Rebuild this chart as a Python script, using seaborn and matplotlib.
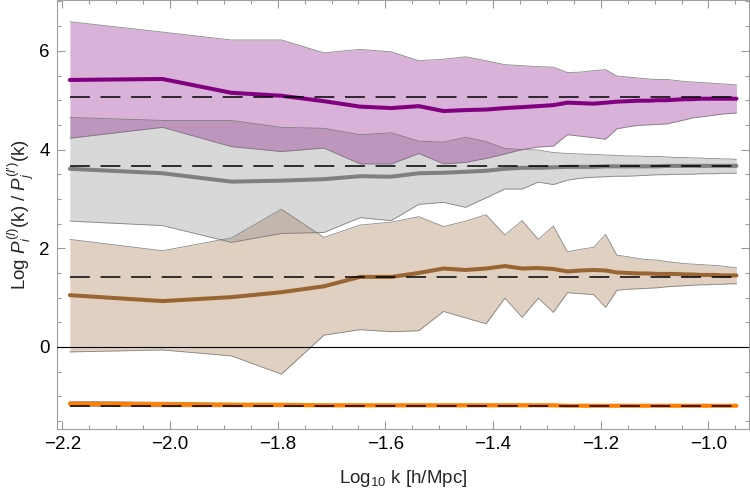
import numpy as np
import pandas as pd
import seaborn as sns
import matplotlib.pyplot as plt
from matplotlib.ticker import MultipleLocator

# log10 k of each bin
log_k = [-2.186, -2.014, -1.886, -1.793, -1.714, -1.647, -1.589, -1.538, -1.492, -1.451,
         -1.413, -1.378, -1.346, -1.316, -1.288, -1.262, -1.237, -1.213, -1.191, -1.170,
         -1.150, -1.130, -1.112, -1.094, -1.077, -1.061, -1.045, -1.030, -1.015, -1.001,
         -0.987, -0.974, -0.961, -0.948]

purple_mean = [5.41, 5.43, 5.15, 5.09, 4.98, 4.87, 4.84, 4.88, 4.78, 4.80, 4.81, 4.84, 4.86, 4.88,
               4.90, 4.95, 4.94, 4.93, 4.95, 4.97, 4.98, 4.99, 4.99, 5.00, 5.00, 5.01, 5.02, 5.02,
               5.03, 5.03, 5.03, 5.03, 5.03, 5.03]
purple_hi = [6.59, 6.38, 6.22, 6.22, 5.96, 6.03, 5.98, 5.80, 5.83, 5.88, 5.80, 5.72, 5.70, 5.68,
             5.67, 5.56, 5.57, 5.60, 5.62, 5.49, 5.47, 5.45, 5.43, 5.42, 5.42, 5.40, 5.38, 5.37,
             5.36, 5.35, 5.34, 5.33, 5.32, 5.31]
purple_lo = [4.23, 4.45, 4.06, 3.96, 4.03, 3.71, 3.71, 3.92, 3.71, 3.74, 3.82, 3.91, 4.00, 4.05,
             4.07, 4.30, 4.27, 4.24, 4.21, 4.42, 4.46, 4.49, 4.50, 4.51, 4.52, 4.56, 4.60, 4.64,
             4.66, 4.68, 4.70, 4.72, 4.73, 4.74]

gray_mean = [3.61, 3.52, 3.35, 3.37, 3.40, 3.46, 3.45, 3.52, 3.53, 3.55, 3.57, 3.61, 3.63, 3.63,
             3.64, 3.65, 3.65, 3.65, 3.66, 3.66, 3.66, 3.66, 3.66, 3.66, 3.67, 3.67, 3.67, 3.67,
             3.67, 3.67, 3.67, 3.67, 3.67, 3.67]
gray_hi = [4.65, 4.59, 4.59, 4.45, 4.43, 4.30, 4.34, 4.17, 4.15, 4.25, 4.16, 4.02, 4.00, 3.99,
           3.94, 3.92, 3.91, 3.90, 3.89, 3.88, 3.87, 3.87, 3.86, 3.86, 3.85, 3.84, 3.84, 3.83,
           3.83, 3.82, 3.82, 3.81, 3.81, 3.80]
gray_lo = [2.55, 2.46, 2.12, 2.30, 2.32, 2.62, 2.56, 2.89, 2.93, 2.83, 3.02, 3.20, 3.20, 3.34,
           3.29, 3.38, 3.42, 3.44, 3.45, 3.46, 3.46, 3.47, 3.48, 3.49, 3.49, 3.50, 3.50, 3.50,
           3.51, 3.51, 3.51, 3.52, 3.52, 3.52]

brown_mean = [1.05, 0.93, 1.01, 1.11, 1.23, 1.42, 1.42, 1.50, 1.59, 1.56, 1.59, 1.64, 1.59, 1.60,
              1.58, 1.53, 1.55, 1.56, 1.55, 1.51, 1.50, 1.49, 1.49, 1.48, 1.48, 1.48, 1.47, 1.47,
              1.46, 1.46, 1.46, 1.45, 1.45, 1.45]
brown_hi = [2.18, 1.95, 2.21, 2.79, 2.22, 2.47, 2.53, 2.64, 2.44, 2.55, 2.68, 2.27, 2.56, 2.18,
            2.45, 1.93, 1.98, 2.02, 2.28, 1.86, 1.83, 1.79, 1.77, 1.76, 1.73, 1.71, 1.69, 1.68,
            1.67, 1.66, 1.65, 1.64, 1.62, 1.61]
brown_lo = [-0.10, -0.06, -0.18, -0.55, 0.24, 0.35, 0.31, 0.33, 0.72, 0.59, 0.47, 0.99, 0.60, 0.99,
            0.70, 1.10, 1.08, 1.06, 0.80, 1.15, 1.17, 1.18, 1.19, 1.20, 1.22, 1.23, 1.24, 1.25,
            1.26, 1.26, 1.27, 1.27, 1.28, 1.28]

orange_mean = [-1.15, -1.16, -1.17, -1.17, -1.18, -1.18, -1.18, -1.18, -1.18, -1.18, -1.18, -1.18,
               -1.18, -1.18, -1.18, -1.19, -1.19, -1.19, -1.19, -1.19, -1.19, -1.19, -1.19, -1.19,
               -1.19, -1.19, -1.19, -1.19, -1.19, -1.19, -1.19, -1.19, -1.19, -1.19]
orange_hi = [-1.10, -1.12, -1.14, -1.15, -1.16, -1.16, -1.17, -1.17, -1.17, -1.17, -1.17, -1.17,
             -1.17, -1.17, -1.17, -1.17, -1.17, -1.17, -1.17, -1.17, -1.17, -1.17, -1.17, -1.17,
             -1.17, -1.17, -1.17, -1.17, -1.17, -1.17, -1.17, -1.17, -1.17, -1.17]
orange_lo = [-1.20, -1.21, -1.21, -1.21, -1.21, -1.21, -1.21, -1.21, -1.21, -1.21, -1.21, -1.21,
             -1.21, -1.21, -1.21, -1.21, -1.21, -1.21, -1.21, -1.21, -1.21, -1.21, -1.21, -1.21,
             -1.21, -1.21, -1.21, -1.21, -1.21, -1.21, -1.21, -1.21, -1.21, -1.21]

# expected (dashed) levels
ref_levels = [5.07, 3.67, 1.42, -1.19]

series_names = ['orange', 'brown', 'gray', 'purple']
colors = {'purple': '#800080', 'gray': '#808080', 'brown': '#996633', 'orange': '#ff8000'}

bands = {
    'orange': (orange_lo, orange_hi),
    'brown': (brown_lo, brown_hi),
    'gray': (gray_lo, gray_hi),
    'purple': (purple_lo, purple_hi),
}
means = {'orange': orange_mean, 'brown': brown_mean, 'gray': gray_mean, 'purple': purple_mean}

df = pd.concat([pd.DataFrame({'logk': log_k, 'value': means[s], 'series': s}) for s in series_names],
               ignore_index=True)

sns.set_style("ticks")
plt.rcParams['font.family'] = ['Liberation Sans', 'DejaVu Sans']
plt.rcParams['mathtext.fontset'] = 'custom'
plt.rcParams['mathtext.rm'] = 'Liberation Sans'
plt.rcParams['mathtext.it'] = 'Liberation Sans:italic'
plt.rcParams['mathtext.bf'] = 'Liberation Sans:bold'

fig = plt.figure(figsize=(7.5, 4.92), dpi=100)
ax = fig.add_axes([0.0756, 0.128, 0.9231, 0.871])

# shaded bands first, then their thin edges
for s in series_names:
    lo, hi = bands[s]
    ax.fill_between(log_k, lo, hi, color=colors[s], alpha=0.3, linewidth=0, zorder=1)
for s in series_names:
    lo, hi = bands[s]
    ax.plot(log_k, lo, color='#6e6e6e', lw=0.6, alpha=0.8, zorder=2)
    ax.plot(log_k, hi, color='#6e6e6e', lw=0.6, alpha=0.8, zorder=2)

ax.axhline(0, color='black', lw=0.8, zorder=3)

sns.lineplot(data=df, x='logk', y='value', hue='series', palette=colors, linewidth=2.9,
             legend=False, errorbar=None, ax=ax, zorder=4)

ax.hlines(ref_levels, log_k[0], log_k[-1], colors='black', linewidth=1.1,
          linestyles=(0, (13, 7)), zorder=5)

ax.set_xlim(-2.2104, -0.9246)
ax.set_ylim(-1.662, 7.02)
ax.xaxis.set_major_locator(MultipleLocator(0.2))
ax.xaxis.set_minor_locator(MultipleLocator(0.05))
ax.yaxis.set_major_locator(MultipleLocator(2))
ax.yaxis.set_minor_locator(MultipleLocator(0.5))

ax.tick_params(which='both', direction='in', top=True, right=True, color='#999999',
               labelsize=13.5, labelcolor='black', width=0.8)
ax.tick_params(which='major', length=5.5, pad=5)
ax.tick_params(which='minor', length=3)
ax.tick_params(axis='x', labeltop=False)
ax.tick_params(axis='y', labelright=False)
for sp in ax.spines.values():
    sp.set_color('#a0a0a0')
    sp.set_linewidth(0.8)

ax.set_xlabel(r'Log$_{\mathrm{10}}$ k [h/Mpc]', fontsize=13.5, labelpad=11)
ax.set_ylabel(r"Log $P_i^{(l)}$(k) / $P_j^{(l\prime)}$(k)", fontsize=13.5, labelpad=2)

fig.savefig('out.png', dpi=100)
